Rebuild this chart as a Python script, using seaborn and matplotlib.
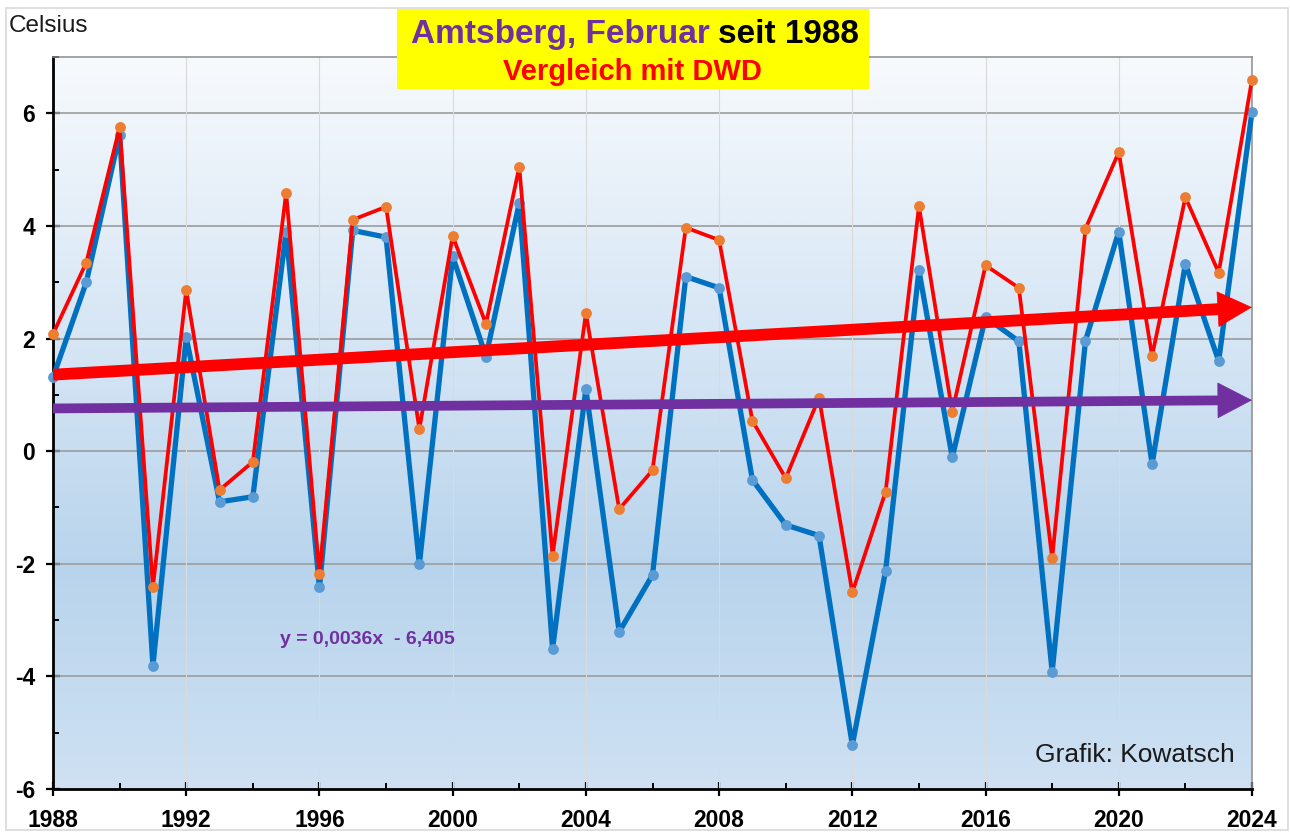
import numpy as np
import pandas as pd
import matplotlib
matplotlib.use("Agg")
import matplotlib.pyplot as plt
import seaborn as sns
from matplotlib.patches import Rectangle
from matplotlib.ticker import MultipleLocator

# ---------------- data ----------------
years = list(range(1988, 2025))
amtsberg = [1.31, 3.00, 5.62, -3.81, 2.02, -0.90, -0.81, 3.90, -2.42, 3.92,
            3.80, -2.01, 3.46, 1.68, 4.41, -3.51, 1.10, -3.21, -2.20, 3.10,
            2.90, -0.51, -1.31, -1.50, -5.22, -2.12, 3.21, -0.11, 2.38, 1.95,
            -3.92, 1.96, 3.90, -0.23, 3.33, 1.60, 6.03]
dwd = [2.08, 3.35, 5.75, -2.42, 2.86, -0.69, -0.19, 4.59, -2.19, 4.11,
       4.34, 0.39, 3.82, 2.26, 5.05, -1.86, 2.45, -1.03, -0.34, 3.97,
       3.75, 0.54, -0.48, 0.95, -2.51, -0.72, 4.35, 0.70, 3.30, 2.90,
       -1.90, 3.95, 5.31, 1.69, 4.51, 3.17, 6.60]
x_ticks = [1988, 1992, 1996, 2000, 2004, 2008, 2012, 2016, 2020, 2024]
y_ticks = [-6, -4, -2, 0, 2, 4, 6]
title_part1 = "Amtsberg, Februar"
title_part2 = "seit 1988"
subtitle = "Vergleich mit DWD"
y_label = "Celsius"
equation = "y = 0,0036x  - 6,405"
credit = "Grafik: Kowatsch"

df = pd.DataFrame({"Jahr": years, "Amtsberg": amtsberg, "DWD": dwd})

# ---------------- style ----------------
sns.set_theme(style="white")
plt.rcParams["font.family"] = ["Liberation Sans", "DejaVu Sans"]
plt.rcParams["axes.unicode_minus"] = False

BLUE = "#0070c0"
BLUE_M = "#5b9bd5"
RED = "#ff0000"
ORANGE = "#ed7d31"
PURPLE = "#7030a0"

fig = plt.figure(figsize=(12.9, 8.36), dpi=100, facecolor="white")
ax = fig.add_axes([53 / 1290, 1 - 789 / 836, (1252 - 53) / 1290, (789 - 57) / 836])

# gradient background
stops_pos = [0.0, 0.30, 0.55, 1.0]
stops_col = [(0xcf, 0xe1, 0xf3), (0xb8, 0xd4, 0xec), (0xd0, 0xe2, 0xf3), (0xf7, 0xfa, 0xfd)]
ys = np.linspace(0, 1, 256)
grad = np.zeros((256, 1, 3))
for c in range(3):
    grad[:, 0, c] = np.interp(ys, stops_pos, [s[c] / 255 for s in stops_col])
ax.imshow(grad, extent=[0, 1, 0, 1], transform=ax.transAxes, origin="lower",
          aspect="auto", zorder=-10, interpolation="bilinear")

# data series
sns.lineplot(data=df, x="Jahr", y="Amtsberg", ax=ax, color=BLUE, lw=3.8,
             marker="o", markersize=7.8, markerfacecolor=BLUE_M,
             markeredgewidth=0, clip_on=False, zorder=3)
sns.lineplot(data=df, x="Jahr", y="DWD", ax=ax, color=RED, lw=2.7,
             marker="o", markersize=7.8, markerfacecolor=ORANGE,
             markeredgewidth=0, clip_on=False, zorder=4)

# trend arrows
yr = np.array(years, dtype=float)
for vals, col, lw in [(dwd, RED, 8.5), (amtsberg, PURPLE, 7.0)]:
    k, d = np.polyfit(yr, np.array(vals), 1)
    x0, x1 = yr[0], yr[-1]
    xb = x1 - 0.95
    ax.plot([x0, xb + 0.05], [k * x0 + d, k * (xb + 0.05) + d], color=col, lw=lw,
            solid_capstyle="butt", zorder=5)
    ax.annotate("", xy=(x1, k * x1 + d), xytext=(xb, k * xb + d),
                arrowprops=dict(arrowstyle="-|>,head_length=24,head_width=12.5",
                                mutation_scale=1, color=col, lw=0.5,
                                shrinkA=0, shrinkB=0),
                annotation_clip=False, zorder=6)

# axes formatting
ax.set_xlim(1988, 2024)
ax.set_ylim(-6, 7)
ax.set_xticks(x_ticks)
ax.set_yticks(y_ticks)
ax.xaxis.set_minor_locator(MultipleLocator(2))
ax.yaxis.set_minor_locator(MultipleLocator(1))
ax.set_xlabel("")
ax.set_ylabel("")
for lab in ax.get_xticklabels() + ax.get_yticklabels():
    lab.set_fontweight("bold")
    lab.set_fontsize(16.5)
    lab.set_color("black")
ax.tick_params(axis="both", which="major", direction="inout", length=10, width=1.6,
               color="black")
ax.tick_params(axis="x", which="major", pad=9.5)
ax.tick_params(axis="y", which="major", pad=8)
ax.tick_params(axis="both", which="minor", direction="in", length=4.5, width=1.4,
               color="black")
ax.xaxis.set_ticks_position("bottom")
ax.yaxis.set_ticks_position("left")

ax.set_axisbelow(True)
ax.grid(False)
for yv in y_ticks[1:]:
    ax.axhline(yv, color="#9c9c9c", lw=1.2, zorder=1)
for xv in x_ticks[1:-1]:
    ax.axvline(xv, color="#dadada", lw=0.8, zorder=1)

for s in ["left", "bottom"]:
    ax.spines[s].set_color("black")
    ax.spines[s].set_linewidth(2.0)
for s in ["top", "right"]:
    ax.spines[s].set_color("#8c8c8c")
    ax.spines[s].set_linewidth(1.1)
    ax.spines[s].set_visible(True)

# texts
fig.text(9 / 1290, 1 - 32 / 836, y_label, fontsize=17.5, color="#1a1a1a",
         ha="left", va="baseline")
fig.text(280 / 1290, 1 - 640 / 836, equation, fontsize=14, fontweight="bold",
         color=PURPLE, ha="left", va="center")
fig.text(1235 / 1290, 1 - 762 / 836, credit, fontsize=19, color="#1a1a1a",
         ha="right", va="baseline", zorder=7)

# title box
fig.patches.append(Rectangle((397 / 1290, 1 - 89.3 / 836), 472 / 1290, 80 / 836,
                             transform=fig.transFigure, facecolor="#ffff00",
                             edgecolor="none", zorder=8))
fig.text(710 / 1290, 1 - 43 / 836, title_part1, fontsize=24, fontweight="bold",
         color=PURPLE, ha="right", va="baseline", zorder=9)
fig.text(718 / 1290, 1 - 43 / 836, title_part2, fontsize=24, fontweight="bold",
         color="black", ha="left", va="baseline", zorder=9)
fig.text(632.5 / 1290, 1 - 80 / 836, subtitle, fontsize=21, fontweight="bold",
         color=RED, ha="center", va="baseline", zorder=9)

# figure border
fig.patches.append(Rectangle((6 / 1290, 6 / 836), 1282 / 1290, 822 / 836,
                             transform=fig.transFigure, facecolor="none",
                             edgecolor="#d9d9d9", lw=1.2, zorder=10))

fig.savefig("out.png", dpi=100, facecolor="white")
